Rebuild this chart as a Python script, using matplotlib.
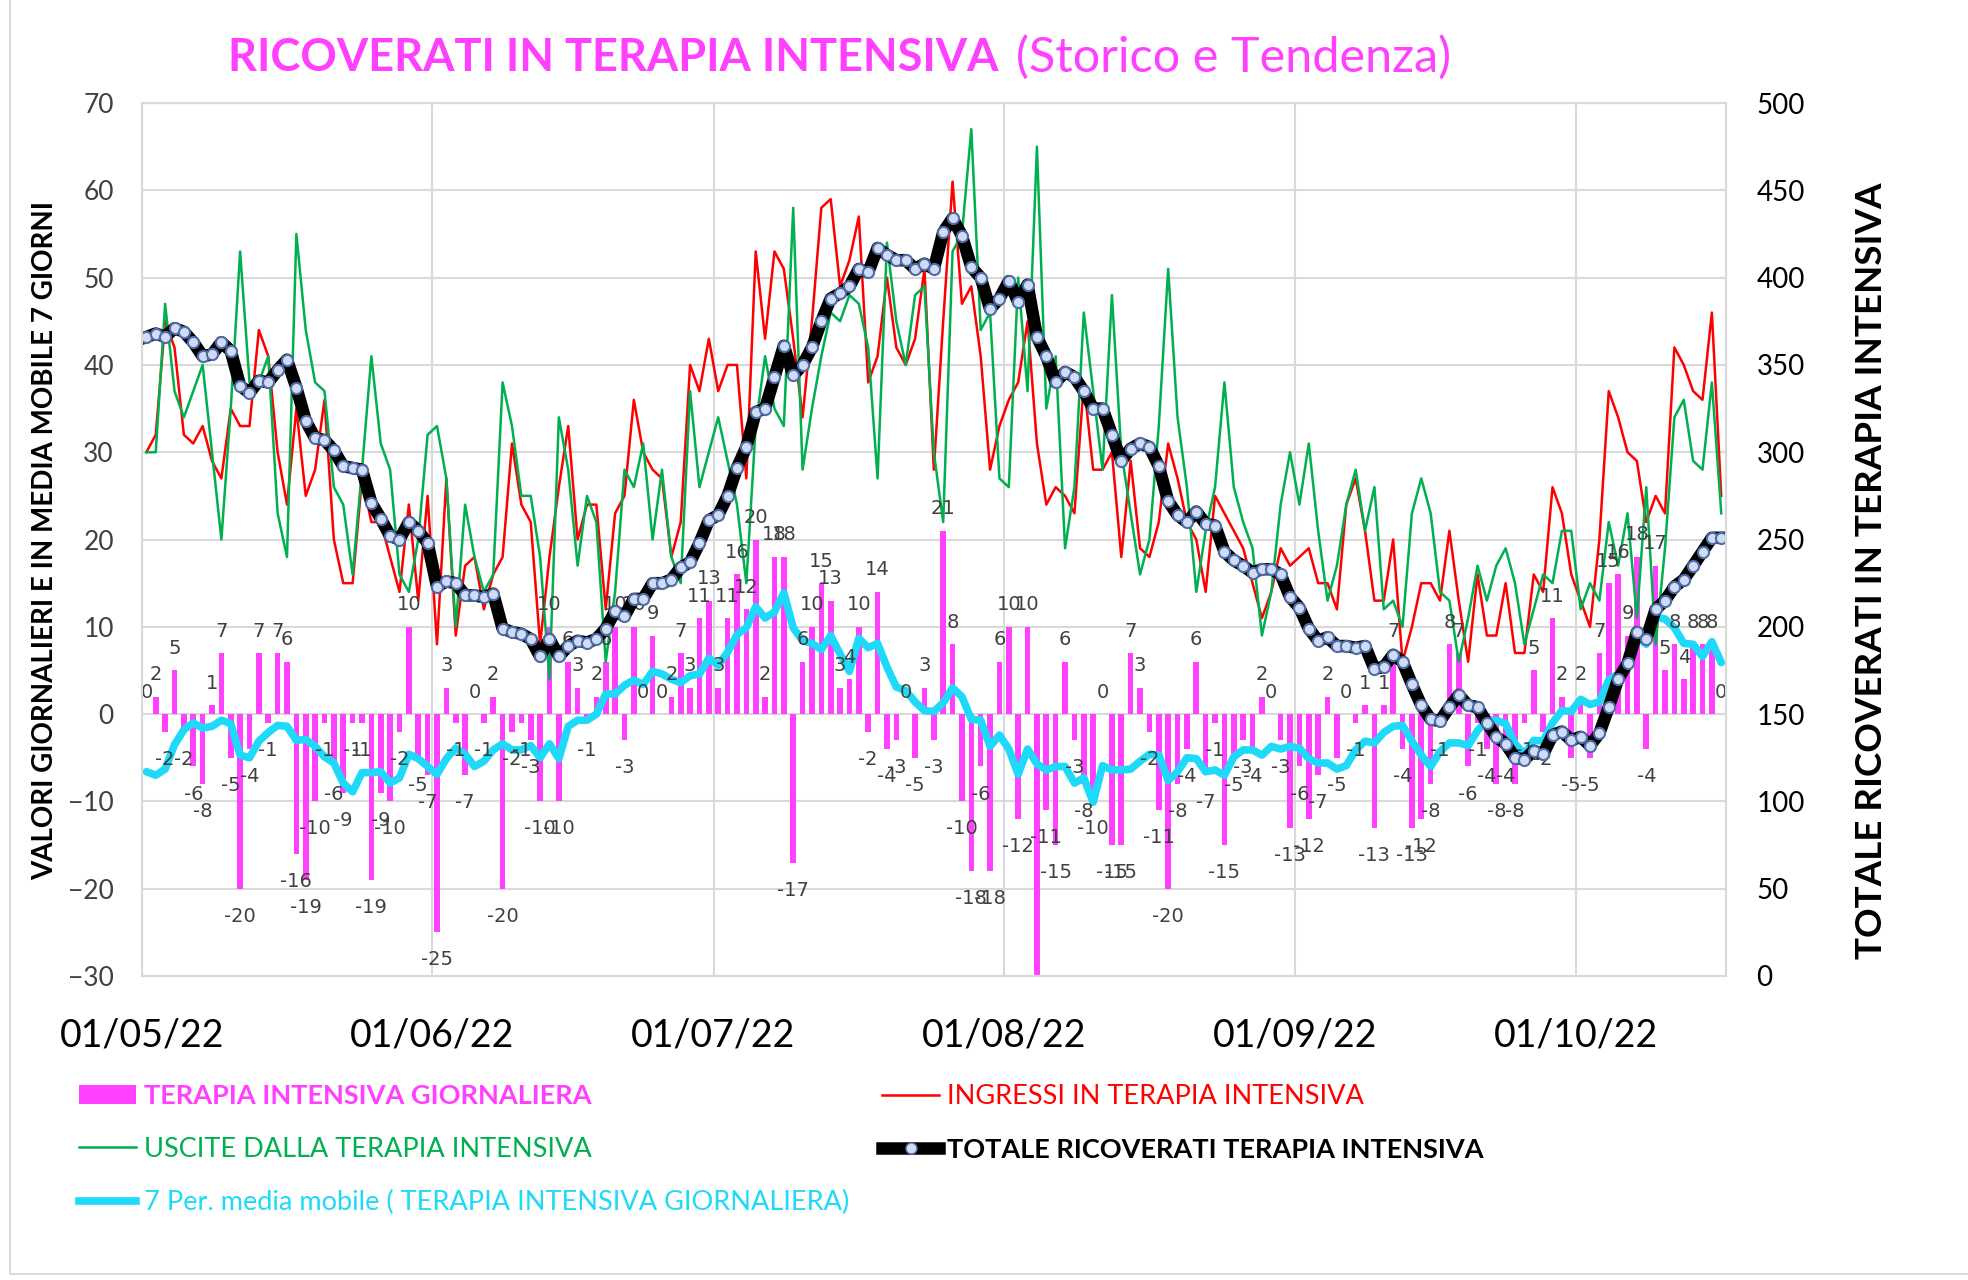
import matplotlib
matplotlib.use('Agg')
import matplotlib.pyplot as plt
import matplotlib.dates as mdates
from matplotlib.lines import Line2D
from matplotlib.patches import Patch, Rectangle
import pandas as pd

# variazione giornaliera terapia intensiva (barre)
giornaliera = [0, 2, -2, 5, -2, -6, -8, 1, 7, -5,
               -20, -4, 7, -1, 7, 6, -16, -19, -10, -1,
               -6, -9, -1, -1, -19, -9, -10, -2, 10, -5,
               -7, -25, 3, -1, -7, 0, -1, 2, -20, -2,
               -1, -3, -10, 10, -10, 6, 3, -1, 2, 6,
               10, -3, 10, 0, 9, 0, 2, 7, 3, 11,
               13, 3, 11, 16, 12, 20, 2, 18, 18, -17,
               6, 10, 15, 13, 3, 4, 10, -2, 14, -4,
               -3, 0, -5, 3, -3, 21, 8, -10, -18, -6,
               -18, 6, 10, -12, 10, -30, -11, -15, 6, -3,
               -8, -10, 0, -15, -15, 7, 3, -2, -11, -20,
               -8, -4, 6, -7, -1, -15, -5, -3, -4, 2,
               0, -3, -13, -6, -12, -7, 2, -5, 0, -1,
               1, -13, 1, 7, -4, -13, -12, -8, -1, 8,
               7, -6, -1, -4, -8, -4, -8, -1, 5, -2,
               11, 2, -5, 2, -5, 7, 15, 16, 9, 18,
               -4, 17, 5, 8, 4, 8, 8, 8, 0]

ingressi = [30, 32, 45, 42, 32, 31, 33, 29, 27, 35,
            33, 33, 44, 41, 30, 24, 35, 25, 28, 36,
            20, 15, 15, 27, 22, 22, 18, 14, 24, 13,
            25, 8, 27, 9, 17, 18, 12, 16, 18, 31,
            24, 22, 8, 18, 26, 33, 20, 24, 24, 12,
            23, 25, 36, 30, 28, 27, 18, 22, 40, 37,
            43, 37, 40, 40, 27, 53, 43, 53, 51, 43,
            34, 45, 58, 59, 49, 52, 57, 38, 41, 50,
            42, 40, 43, 51, 28, 45, 61, 47, 49, 41,
            28, 33, 36, 38, 45, 31, 24, 26, 25, 23,
            38, 28, 28, 30, 18, 29, 19, 18, 22, 31,
            27, 22, 20, 14, 25, 23, 21, 19, 15, 11,
            14, 19, 17, 18, 19, 15, 15, 12, 24, 27,
            21, 13, 13, 20, 6, 10, 15, 15, 13, 21,
            13, 6, 16, 9, 9, 15, 7, 7, 16, 14,
            26, 23, 16, 13, 10, 20, 37, 34, 30, 29,
            22, 25, 23, 42, 40, 37, 36, 46, 25]

uscite = [30, 30, 47, 37, 34, 37, 40, 30, 20, 35,
          53, 38, 38, 41, 23, 18, 55, 44, 38, 37,
          26, 24, 16, 28, 41, 31, 28, 16, 14, 20,
          32, 33, 27, 10, 24, 18, 14, 16, 38, 33,
          25, 25, 18, 4, 34, 28, 17, 25, 22, 6,
          14, 28, 26, 31, 20, 28, 18, 15, 37, 26,
          30, 34, 29, 24, 15, 33, 41, 35, 33, 58,
          28, 35, 41, 46, 45, 48, 47, 42, 27, 54,
          45, 40, 48, 49, 30, 22, 53, 55, 67, 44,
          46, 27, 26, 50, 37, 65, 35, 41, 19, 26,
          46, 37, 28, 48, 30, 23, 16, 20, 33, 51,
          34, 26, 14, 21, 26, 38, 26, 22, 19, 9,
          14, 24, 30, 24, 31, 21, 13, 17, 24, 28,
          21, 26, 12, 13, 10, 23, 27, 23, 14, 13,
          6, 11, 17, 13, 17, 19, 15, 8, 12, 16,
          15, 21, 21, 12, 15, 13, 22, 17, 23, 11,
          26, 8, 19, 34, 36, 29, 28, 38, 23]

totale = [366, 368, 366, 371, 369, 363, 355, 356, 363, 358,
          338, 334, 341, 340, 347, 353, 337, 318, 308, 307,
          301, 292, 291, 290, 271, 262, 252, 250, 260, 255,
          248, 223, 226, 225, 218, 218, 217, 219, 199, 197,
          196, 193, 183, 193, 183, 189, 192, 191, 193, 199,
          209, 206, 216, 216, 225, 225, 227, 234, 237, 248,
          261, 264, 275, 291, 303, 323, 325, 343, 361, 344,
          350, 360, 375, 388, 391, 395, 405, 403, 417, 413,
          410, 410, 405, 408, 405, 426, 434, 424, 406, 400,
          382, 388, 398, 386, 396, 366, 355, 340, 346, 343,
          335, 325, 325, 310, 295, 302, 305, 303, 292, 272,
          264, 260, 266, 259, 258, 243, 238, 235, 231, 233,
          233, 230, 217, 211, 199, 192, 194, 189, 189, 188,
          189, 176, 177, 184, 180, 167, 155, 147, 146, 154,
          161, 155, 154, 145, 137, 133, 125, 124, 129, 127,
          138, 140, 135, 137, 132, 139, 154, 170, 179, 197,
          193, 210, 215, 223, 227, 235, 243, 251, 251]

media_mobile = [-6.6, -7.0, -6.3, -3.5, -1.8, -1.0, -1.6, -1.4, -0.7, -1.1,
                -4.7, -5.0, -3.1, -2.1, -1.3, -1.4, -3.0, -2.9, -3.7, -4.9,
                -5.6, -7.9, -8.9, -6.7, -6.7, -6.6, -7.9, -7.3, -4.6, -5.1,
                -6.0, -6.9, -5.1, -3.9, -4.6, -6.0, -5.4, -4.1, -3.4, -4.1,
                -4.1, -3.6, -5.0, -3.4, -5.1, -1.4, -0.7, -0.7, 0.0, 2.3,
                2.3, 3.3, 3.9, 3.4, 4.9, 4.6, 4.0, 3.6, 4.4, 4.6,
                6.4, 5.6, 7.1, 9.1, 9.9, 12.3, 11.0, 11.7, 13.9, 9.9,
                8.4, 8.1, 7.4, 9.0, 6.9, 4.9, 8.7, 7.6, 8.1, 5.4,
                3.1, 2.7, 1.4, 0.4, 0.3, 1.3, 3.0, 2.0, -0.6, -0.7,
                -3.7, -2.4, -4.0, -6.9, -4.0, -5.7, -6.4, -6.0, -6.0, -7.9,
                -7.3, -10.1, -5.9, -6.4, -6.4, -6.3, -5.4, -4.6, -4.7, -7.6,
                -6.6, -5.0, -5.1, -6.6, -6.4, -7.0, -4.9, -4.1, -4.1, -4.7,
                -3.7, -4.0, -3.7, -3.9, -5.1, -5.6, -5.6, -6.3, -5.9, -4.1,
                -3.1, -3.3, -2.1, -1.4, -1.3, -3.1, -4.7, -6.0, -4.3, -3.3,
                -3.3, -3.6, -1.9, -0.7, -0.7, -1.1, -3.4, -4.6, -3.0, -3.1,
                -1.0, 0.4, 0.3, 1.7, 1.1, 1.4, 3.9, 4.6, 5.6, 8.9,
                8.0, 11.1, 10.9, 9.9, 8.1, 8.0, 6.6, 8.3, 5.9]

# date (punto a metà giornata)
giorni = pd.date_range('2022-05-01', periods=len(giornaliera), freq='D') + pd.Timedelta(hours=12)
mesi = pd.date_range('2022-05-01', '2022-10-01', freq='MS')

MAGENTA = '#FF40FF'
ROSSO = '#FF0000'
VERDE = '#00B050'
CIANO = '#1FD9F9'
GRIGIO = '#D9D9D9'

plt.rcParams['font.family'] = ['Lato', 'DejaVu Sans']

fig = plt.figure(figsize=(19.68, 12.8), dpi=100)
ax = fig.add_axes([0.072, 0.2375, 0.805, 0.682])
ax2 = ax.twinx()

ax.bar(giorni, giornaliera, width=0.6, color=MAGENTA, zorder=2)
ax.plot(giorni, ingressi, color=ROSSO, lw=1.8, zorder=3)
ax.plot(giorni, uscite, color=VERDE, lw=1.8, zorder=3)
ax.plot(giorni, media_mobile, color=CIANO, lw=5.5, zorder=4, solid_capstyle='round')

# etichette dati sulle barre
for g, v in zip(giorni, giornaliera):
    t = ax.annotate(str(v), (g, v), xytext=(0, 9 if v >= 0 else -13), textcoords='offset points',
                    ha='center', va='bottom' if v >= 0 else 'top', fontsize=14,
                    color='#404040', family='DejaVu Sans', zorder=5)
    t.set_clip_box(ax.bbox)
    t.set_clip_on(True)

ax2.plot(giorni, totale, color='black', lw=9, marker='o', ms=8, mfc='#D0DCF5', mec='#4F6CA6',
         mew=1.5, solid_joinstyle='round')

ax.set_xlim(pd.Timestamp('2022-05-01'), pd.Timestamp('2022-10-17'))
ax.set_ylim(-30, 70)
ax.set_yticks(range(-30, 71, 10))
ax2.set_ylim(0, 500)
ax2.set_yticks(range(0, 501, 50))
ax.set_xticks(mesi)
ax.xaxis.set_major_formatter(mdates.DateFormatter('%d/%m/%y'))

ax.grid(True, color=GRIGIO, lw=1.5)
ax.set_axisbelow(True)
for a in (ax, ax2):
    for s in a.spines.values():
        s.set_color(GRIGIO)
        s.set_linewidth(1.5)
ax.tick_params(axis='x', length=0, pad=30, labelsize=27)
ax.tick_params(axis='y', length=0, pad=20, labelsize=19, labelcolor='#404040')
ax2.tick_params(axis='y', length=0, pad=22, labelsize=20)

fig.text(0.023, 0.578, 'VALORI GIORNALIERI E IN MEDIA MOBILE 7 GIORNI', rotation=90,
         ha='center', va='center', fontsize=20, fontweight='bold')
fig.text(0.951, 0.554, 'TOTALE RICOVERATI IN TERAPIA INTENSIVA', rotation=90,
         ha='center', va='center', fontsize=26.5, fontweight='bold')

# titolo
t1 = fig.text(0.116, 0.955, 'RICOVERATI IN TERAPIA INTENSIVA', fontsize=32.5, fontweight='bold',
              color=MAGENTA, va='center')
fig.canvas.draw()
bb = t1.get_window_extent()
fig.text(bb.x1 / fig.bbox.width + 0.009, 0.955, '(Storico e Tendenza)', fontsize=35,
         color=MAGENTA, va='center')

# legenda
handles = [Patch(facecolor=MAGENTA),
           Line2D([], [], color=VERDE, lw=1.8),
           Line2D([], [], color=CIANO, lw=5.5),
           Line2D([], [], color=ROSSO, lw=1.8),
           Line2D([], [], color='black', lw=9, marker='o', ms=8, mfc='#D0DCF5', mec='#4F6CA6')]
labels = ['TERAPIA INTENSIVA GIORNALIERA', 'USCITE DALLA TERAPIA INTENSIVA',
          '7 Per. media mobile ( TERAPIA INTENSIVA GIORNALIERA)',
          'INGRESSI IN TERAPIA INTENSIVA', 'TOTALE RICOVERATI TERAPIA INTENSIVA']
leg = fig.legend(handles, labels, loc='upper left', bbox_to_anchor=(0.028, 0.172), ncol=2,
                 frameon=False, fontsize=19.5, handlelength=2.1, handletextpad=0.3,
                 columnspacing=1.2, labelspacing=1.05,
                 labelcolor=[MAGENTA, VERDE, CIANO, ROSSO, 'black'])
for i in (0, 4):
    leg.get_texts()[i].set_fontweight('bold')

fig.patches.append(Rectangle((0.005, 0.005), 1.2, 1.2, transform=fig.transFigure, fill=False,
                             edgecolor=GRIGIO, lw=1.5))

fig.savefig('out.png', dpi=100)
